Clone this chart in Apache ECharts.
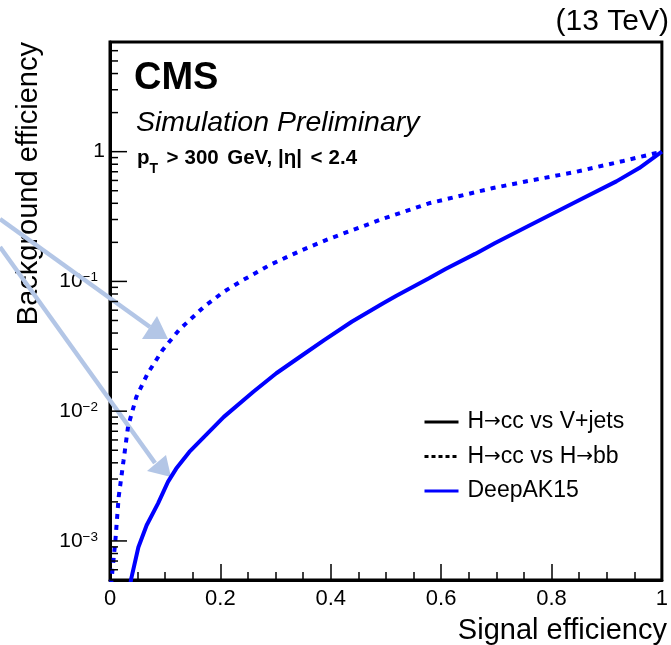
<!DOCTYPE html>
<html><head><meta charset="utf-8">
<script src="https://cdn.jsdelivr.net/npm/echarts@6/dist/echarts.min.js"></script>
<style>html,body{margin:0;padding:0;background:#fff}#c{width:671px;height:645px}</style>
</head><body><div id="c"></div>
<script>
const FONT = '"Liberation Sans", Arial, Helvetica, sans-serif';

// DeepAK15, H->cc vs V+jets (solid)
const sigEffVjets = [0.035, 0.0384, 0.0514, 0.0664, 0.0871, 0.105, 0.12, 0.1437, 0.1705, 0.2063, 0.2598, 0.3014, 0.349, 0.388, 0.438, 0.495, 0.519, 0.578, 0.608, 0.6616, 0.697, 0.751, 0.840, 0.9175, 0.959, 1.0];
const bkgEffVjets = [0.00042, 0.00051, 0.000895, 0.00132, 0.00195, 0.00285, 0.00361, 0.00485, 0.00634, 0.00904, 0.0141, 0.0196, 0.0271, 0.0353, 0.0489, 0.0679, 0.0776, 0.106, 0.1245, 0.163, 0.197, 0.258, 0.402, 0.590, 0.748, 1.0];
// DeepAK15, H->cc vs H->bb (dotted)
const sigEffHbb = [0.002, 0.0039, 0.0098, 0.0157, 0.0246, 0.0327, 0.0478, 0.0685, 0.0953, 0.1252, 0.170, 0.2057, 0.2415, 0.2898, 0.3488, 0.3995, 0.489, 0.578, 0.692, 0.751, 0.841, 0.930, 1.0];
const bkgEffHbb = [0.00046, 0.00056, 0.00101, 0.00218, 0.00418, 0.0076, 0.0129, 0.0196, 0.0296, 0.0423, 0.0636, 0.0830, 0.1027, 0.134, 0.175, 0.215, 0.298, 0.400, 0.522, 0.587, 0.694, 0.848, 1.0];

const legendNames = ['H\u2192cc vs V+jets', 'H\u2192cc vs H\u2192bb', 'DeepAK15'];
const xTickStep = 0.2;
const yMin = 5e-4, yMax = 7;

const zip = (a, b) => a.map((v, i) => [v, b[i]]);

// log-axis tick positions (major at powers of ten, minor at 2..9)
const yTicks = [];
for (let n = -4; n <= 0; n++) {
  for (let k = 1; k <= 9; k++) {
    const v = k * Math.pow(10, n);
    if (v >= yMin * 0.999 && v <= yMax * 1.001) yTicks.push([0, v, k === 1 ? 1 : 0]);
  }
}

const chart = echarts.init(document.getElementById('c'), null, {renderer: 'canvas'});
const option = {
  animation: false,
  textStyle: {fontFamily: FONT, color: '#000'},
  grid: {left: 110, right: 2, top: 42, bottom: 65, show: true, borderColor: '#000', borderWidth: 3, containLabel: false},
  title: [
    {text: '(13 TeV)', right: 2, top: 7, padding: 0,
     textStyle: {fontFamily: FONT, fontSize: 30, fontWeight: 'normal', color: '#000', lineHeight: 30}},
    {text: 'CMS', left: 134, top: 60, padding: 0,
     textStyle: {fontFamily: FONT, fontSize: 38, fontWeight: 'bold', color: '#000', lineHeight: 38}},
    {text: 'Simulation Preliminary', left: 136, top: 109, padding: 0,
     textStyle: {fontFamily: FONT, fontSize: 28.5, fontStyle: 'italic', fontWeight: 'normal', color: '#000', lineHeight: 28}},
    {text: '{b|p}{sub|T}{g1|>}{g2|300}{g1|GeV,}{g2||\u03b7|}{g1|<}{g2|2.4}', left: 137, top: 140, padding: 0,
     textStyle: {rich: {
       b: {fontFamily: FONT, fontSize: 20.5, fontWeight: 'bold', color: '#000', lineHeight: 36},
       g1: {fontFamily: FONT, fontSize: 20.5, fontWeight: 'bold', color: '#000', lineHeight: 36, padding: [0, 0, 0, 8.5]},
       g2: {fontFamily: FONT, fontSize: 20.5, fontWeight: 'bold', color: '#000', lineHeight: 36, padding: [0, 0, 0, 6]},
       sub: {fontFamily: FONT, fontSize: 14, fontWeight: 'bold', color: '#000', lineHeight: 14, verticalAlign: 'bottom'}
     }}}
  ],
  legend: {
    orient: 'vertical', left: 423, top: 410, padding: 0,
    itemWidth: 34, itemHeight: 14, itemGap: 10.5,
    selectedMode: false,
    data: legendNames,
    itemStyle: {opacity: 0},
    lineStyle: {width: 3},
    formatter: name => name.replace(/\u2192/g, '{a|\u2192}'),
    textStyle: {fontFamily: FONT, fontSize: 23, color: '#000', lineHeight: 24, padding: [0, 0, 0, 4],
      rich: {a: {fontFamily: '"DejaVu Sans", sans-serif', fontSize: 20, color: '#000', lineHeight: 24}}}
  },
  xAxis: {
    type: 'value', min: 0, max: 1, interval: xTickStep,
    axisLine: {lineStyle: {color: '#000', width: 3}},
    axisTick: {inside: true, length: 16, lineStyle: {color: '#000', width: 1.5}},
    minorTick: {show: true, splitNumber: 4, length: 8, lineStyle: {color: '#000', width: 1.5}},
    splitLine: {show: false},
    axisLabel: {fontFamily: FONT, fontSize: 22, color: '#000', margin: 8,
      formatter: v => v === 0 ? '0' : (v === 1 ? '1' : v.toFixed(1))},
    name: 'Signal efficiency', nameLocation: 'end', nameGap: 5,
    nameTextStyle: {fontFamily: FONT, fontSize: 29, color: '#000', align: 'right', verticalAlign: 'top', padding: [36, 0, 0, 0]}
  },
  yAxis: {
    type: 'log', logBase: 10, min: yMin, max: yMax,
    axisLine: {show: true, lineStyle: {color: '#000', width: 3}},
    axisTick: {show: false}, minorTick: {show: false}, splitLine: {show: false},
    axisLabel: {
      margin: 5,
      formatter: v => {
        const l = Math.log10(v), n = Math.round(l);
        if (Math.abs(l - n) > 1e-6) return '';
        if (n === 0) return '{b|1}';
        return '{b|10}{s|\u2212' + (-n) + '}{sp| }';
      },
      rich: {
        b: {fontFamily: FONT, fontSize: 21, lineHeight: 22, color: '#000'},
        s: {fontFamily: FONT, fontSize: 13.5, lineHeight: 14, verticalAlign: 'top', color: '#000'},
        sp: {fontFamily: FONT, fontSize: 10, width: 7, lineHeight: 14}
      }
    },
    name: 'Background efficiency', nameLocation: 'end', nameGap: 0, nameRotate: 90,
    nameTextStyle: {fontFamily: FONT, fontSize: 29, color: '#000', align: 'right', verticalAlign: 'bottom', padding: [0, 0, 67, 0]}
  },
  graphic: [
    {type: 'polyline', z: 1, silent: true, shape: {points: [[0, 219], [150, 327]]}, style: {stroke: '#b3c6e6', lineWidth: 4.5, fill: null}},
    {type: 'polygon', z: 1, silent: true, shape: {points: [[157, 316], [142, 339], [168, 339]]}, style: {fill: '#b3c6e6'}},
    {type: 'polyline', z: 1, silent: true, shape: {points: [[0, 247], [155, 463]]}, style: {stroke: '#b3c6e6', lineWidth: 4.5, fill: null}},
    {type: 'polygon', z: 1, silent: true, shape: {points: [[166, 455], [147, 471], [171, 477]]}, style: {fill: '#b3c6e6'}}
  ],
  series: [
    {name: legendNames[0], type: 'line', data: [], symbol: 'none',
     lineStyle: {color: '#000', width: 3}, itemStyle: {color: '#000'}},
    {name: legendNames[1], type: 'line', data: [], symbol: 'none',
     lineStyle: {color: '#000', width: 3, type: [4, 3]}, itemStyle: {color: '#000'}},
    {name: legendNames[2], type: 'line', data: zip(sigEffVjets, bkgEffVjets), symbol: 'none', z: 4,
     lineStyle: {color: '#0000ff', width: 4}, itemStyle: {color: '#0000ff'}},
    {name: 'DeepAK15 H\u2192cc vs H\u2192bb', type: 'line', data: zip(sigEffHbb, bkgEffHbb), symbol: 'none', z: 4,
     lineStyle: {color: '#0000ff', width: 4, type: [5, 6]}, itemStyle: {color: '#0000ff'}},
    {name: 'yticks', type: 'custom', data: yTicks, silent: true, clip: false, z: 5,
     encode: {x: 0, y: 1},
     renderItem: (params, api) => {
       const p = api.coord([0, api.value(1)]);
       const len = api.value(2) ? 17 : 8;
       return {type: 'line', shape: {x1: p[0], y1: p[1], x2: p[0] + len, y2: p[1]},
               style: {stroke: '#000', lineWidth: 1.5}};
     }}
  ]
};
chart.setOption(option);
</script></body></html>
